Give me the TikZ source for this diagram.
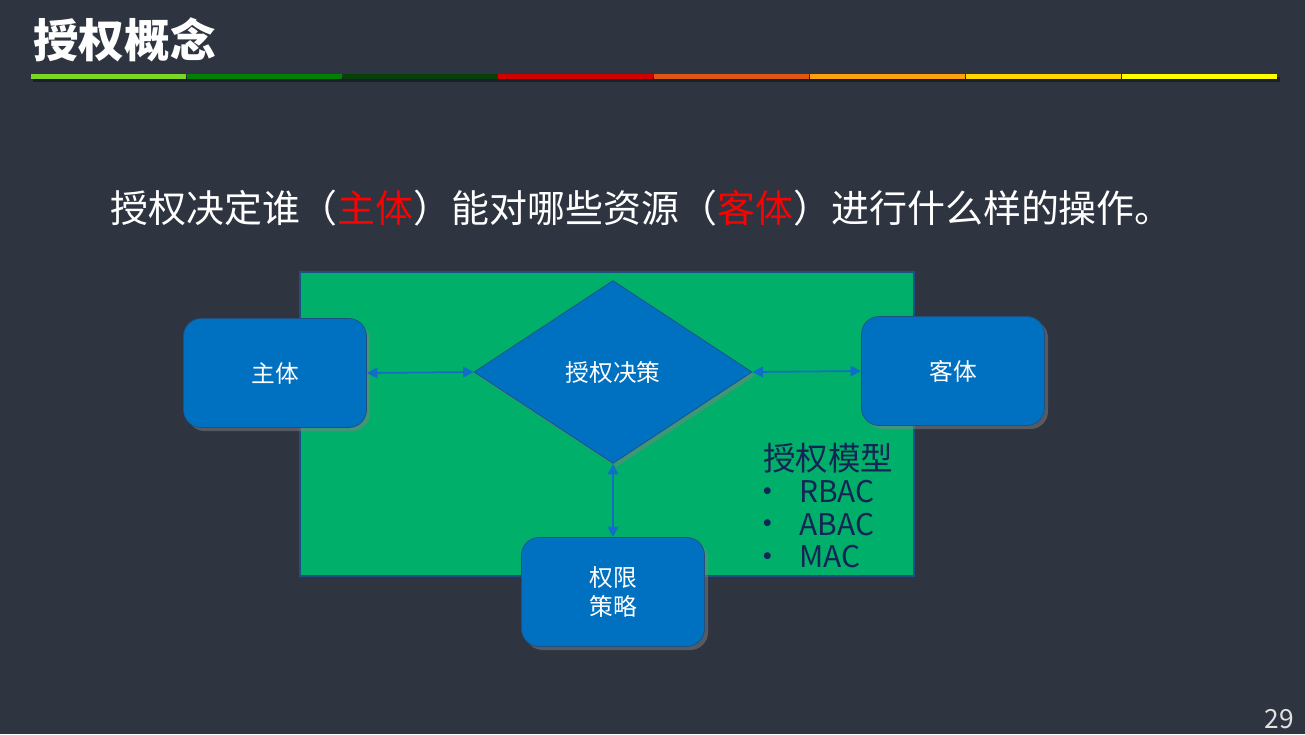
\documentclass[tikz,border=0pt]{standalone}
\usepackage{fontspec}
\newfontfamily\cjk{Noto Sans CJK SC}
\definecolor{slidebg}{RGB}{46, 52, 64}
\definecolor{areagreen}{RGB}{0, 176, 106}
\definecolor{boxblue}{RGB}{0, 112, 192}
\definecolor{edgeblue}{RGB}{30, 80, 130}
\definecolor{linkblue}{RGB}{16, 110, 200}
\definecolor{modelnavy}{RGB}{20, 36, 84}
\definecolor{keyred}{RGB}{255, 0, 0}
\definecolor{barA}{RGB}{126, 214, 36}
\definecolor{barB}{RGB}{0, 128, 0}
\definecolor{barC}{RGB}{8, 64, 10}
\definecolor{barD}{RGB}{208, 0, 0}
\definecolor{barE}{RGB}{222, 88, 20}
\definecolor{barF}{RGB}{255, 160, 16}
\definecolor{barG}{RGB}{255, 214, 0}
\definecolor{barH}{RGB}{255, 255, 0}
\usetikzlibrary{shapes.geometric, arrows.meta, positioning, shadows}

\begin{document}
\begin{tikzpicture}[x=0.02cm, y=-0.02cm,
    every node/.style={font=\cjk},
    blockbox/.style={draw=edgeblue, fill=boxblue, rounded corners=10pt,
      minimum width=3.66cm, minimum height=2.18cm, text=white, align=center,
      font=\cjk\fontsize{13.5}{16}\selectfont,
      drop shadow={shadow xshift=2pt, shadow yshift=-2pt, opacity=0.5}},
    decision/.style={diamond, draw=edgeblue, fill=boxblue, minimum width=5.56cm,
      minimum height=3.66cm, inner sep=0pt, text=white,
      font=\cjk\fontsize{13.5}{16}\selectfont,
      drop shadow={shadow xshift=2pt, shadow yshift=-2pt, opacity=0.5}},
    link/.style={draw=linkblue, line width=1pt,
      {Triangle[length=6pt, width=6pt]}-{Triangle[length=6pt, width=6pt]}},
    modeltext/.style={text=modelnavy, anchor=west, inner sep=0pt}]
  % slide
  \fill[slidebg] (0,0) rectangle (1305,734);
  \useasboundingbox (0,0) rectangle (1305,734);

  % heading and colour bar
  \node[anchor=west, text=white, font=\cjk\bfseries\fontsize{26}{30}\selectfont] (title) at (27,40) {授权概念};
  \fill[black, opacity=0.4] (33,77) rectangle (1280,82);
  \foreach \c [count=\i from 0] in {barA, barB, barC, barD, barE, barF, barG, barH}
    \fill[\c] (31+155.8*\i,74) rectangle (186+155.8*\i,79);

  \node[anchor=west, text=white, font=\cjk\fontsize{21.6}{25}\selectfont] (claim) at (104,208)
    {授权决定谁（\textcolor{keyred}{主体}）能对哪些资源（\textcolor{keyred}{客体}）进行什么样的操作。};

  % green area
  \fill[areagreen] (300,272) rectangle (914,576);
  \draw[edgeblue, line width=0.6pt] (300,272) rectangle (914,576);

  \node[blockbox] (subj) at (275,373) {主体};
  \node[decision] (dec) at (613,372) {授权决策};
  \node[blockbox] (obj) at (953,371) {客体};
  \node[blockbox] (perm) at (613,592) {权限\\策略};

  \draw[link] (subj.east) -- (dec.west);
  \draw[link] (dec.east) -- (obj.west);
  \draw[link] (dec.south) -- (perm.north);

  % models
  \node[modeltext, font=\cjk\fontsize{18.5}{22}\selectfont] (model) at (763,458) {授权模型};
  \foreach \m [count=\k from 0] in {RBAC, ABAC, MAC} {
    \node[modeltext, anchor=center, font=\cjk\bfseries\fontsize{14}{16}\selectfont] (dot\k) at (768,494+32.5*\k) {•};
    \node[modeltext, font=\cjk\fontsize{17}{20}\selectfont] (item\k) at (799,492+32.5*\k) {\m};
  }

  \node[text={rgb,255:red,225;green,225;blue,225}, font=\cjk\fontsize{15}{18}\selectfont] (pageno) at (1279,719) {29};
\end{tikzpicture}
\end{document}
